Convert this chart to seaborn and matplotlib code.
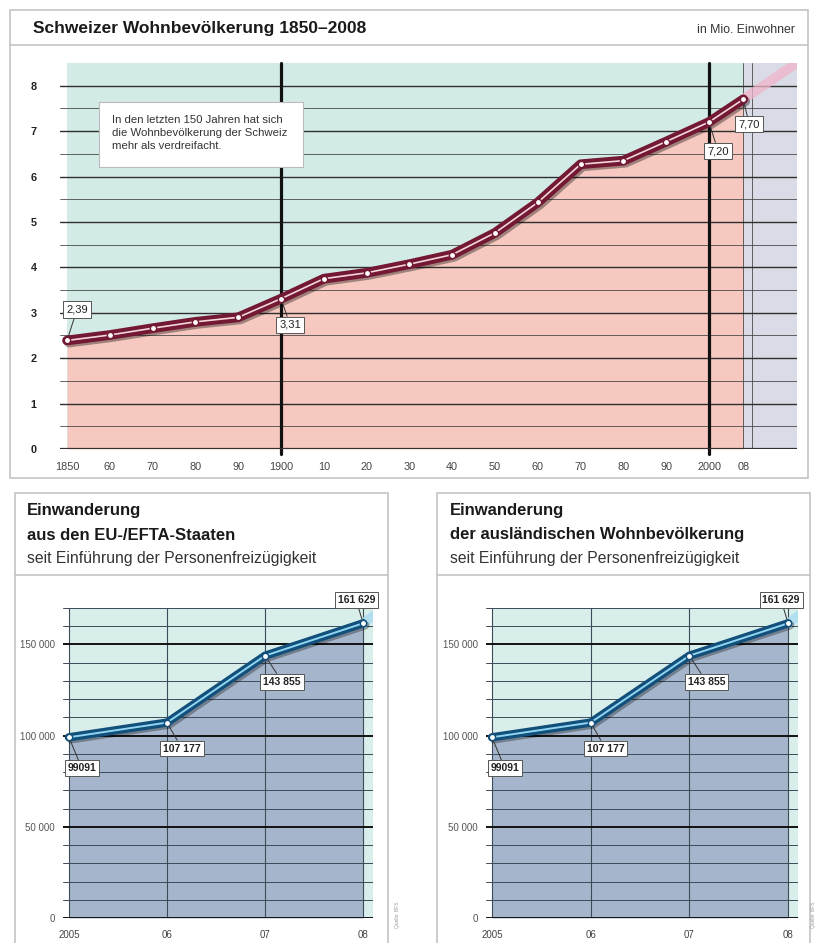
import matplotlib
matplotlib.use("Agg")
import matplotlib.pyplot as plt
import matplotlib.patheffects as pe
from matplotlib.patches import Rectangle
import seaborn as sns

# population, Mio. inhabitants
years = [1850, 1860, 1870, 1880, 1890, 1900, 1910, 1920, 1930, 1940,
         1950, 1960, 1970, 1980, 1990, 2000, 2008]
pop = [2.39, 2.51, 2.66, 2.80, 2.90, 3.31, 3.75, 3.88, 4.07, 4.28,
       4.76, 5.43, 6.27, 6.35, 6.77, 7.20, 7.70]
pop_labels = {1850: "2,39", 1900: "3,31", 2000: "7,20", 2008: "7,70"}
pop_trend_years = [2008, 2020.5]
pop_trend = [7.70, 8.5]
year_ticks = list(range(1850, 2001, 10)) + [2008]
year_ticklabels = ["1850", "60", "70", "80", "90", "1900", "10", "20", "30",
                   "40", "50", "60", "70", "80", "90", "2000", "08"]

# immigration since free movement of persons
imm_years = [2005, 2006, 2007, 2008]
eu_vals = [99091, 107177, 143855, 161629]
foreign_vals = [99091, 107177, 143855, 161629]
imm_labels = ["99091", "107 177", "143 855", "161 629"]
imm_trend_years = [2008, 2008.15]
imm_trend = [161629, 167500]
imm_ticklabels = ["2005", "06", "07", "08"]

W, H = 818, 943
FONTS = ["Liberation Sans", "DejaVu Sans"]

sns.set_style("white")
plt.rcParams["font.family"] = FONTS

fig = plt.figure(figsize=(W / 100, H / 100), dpi=100)


def rect(x0, y0, x1, y1):
    return [x0 / W, 1 - y1 / H, (x1 - x0) / W, (y1 - y0) / H]


# frames and headings, drawn in pixel coordinates
frame = fig.add_axes([0, 0, 1, 1])
frame.set_xlim(0, W)
frame.set_ylim(H, 0)
frame.axis("off")
for x0, y0, x1, y1, hy in [(10, 10, 808, 478, 45), (15, 493, 388, 960, 575),
                           (437, 493, 810, 960, 575)]:
    frame.add_patch(Rectangle((x0, y0), x1 - x0, y1 - y0, fc="white",
                              ec="#c4c4c4", lw=1.2))
    frame.plot([x0, x1], [hy, hy], color="#c4c4c4", lw=1.2)

frame.text(33, 29, "Schweizer Wohnbevölkerung 1850–2008", fontsize=12.5,
           fontweight="bold", color="#1a1a1a", va="center")
frame.text(795, 30, "in Mio. Einwohner", fontsize=8.8, color="#333",
           va="center", ha="right")
for x, lines in [(27, ["Einwanderung", "aus den EU-/EFTA-Staaten"]),
                 (450, ["Einwanderung", "der ausländischen Wohnbevölkerung"])]:
    frame.text(x, 511, lines[0], fontsize=12, fontweight="bold",
               color="#1a1a1a", va="center")
    frame.text(x, 535, lines[1], fontsize=12, fontweight="bold",
               color="#1a1a1a", va="center")
    frame.text(x, 559, "seit Einführung der Personenfreizügigkeit",
               fontsize=11.3, color="#333", va="center")
for x in [398, 814]:
    frame.text(x, 915, "Quelle: BFS", fontsize=3.5, color="#999",
               rotation=90, va="center", ha="center")

box = dict(boxstyle="square,pad=0.28", fc="white", ec="#555", lw=0.7)

# ---- top chart ----
ax = fig.add_axes(rect(60, 63, 797, 449))
ax.set_xlim(1848.36, 2020.56)
ax.set_ylim(0, 8.5)
ax.axvspan(1850, 2008, color="#d3ebe7", lw=0, zorder=0.6)
ax.axvspan(2008, 2020.56, color="#d9dbe6", lw=0, zorder=0.6)
ax.fill_between(years, pop, 0, color="#f6c8bf", lw=0, zorder=0.8)
ax.set_yticks(range(0, 9))
ax.set_yticks([i + 0.5 for i in range(8)], minor=True)
ax.set_xticks(year_ticks, year_ticklabels)
ax.set_xticks(list(range(1850, 2011, 10)), minor=True)
ax.grid(True, which="major", axis="y", color="#2e2e2e", lw=1.0)
ax.grid(True, which="minor", axis="y", color="#4a4a4a", lw=0.6)
ax.grid(True, which="minor", axis="x", color="#4a4a4a", lw=0.6)
ax.set_axisbelow("line")
ax.axvline(2008, color="#4a4a4a", lw=0.6, zorder=1.5)
for yr in [1900, 2000]:
    ax.axvline(yr, ymin=-0.012, color="#111", lw=2.3, zorder=1.6, clip_on=False)
ax.axhline(0, color="#333", lw=1.6, zorder=1.6)
sns.despine(ax=ax, left=True, bottom=True)
ax.tick_params(axis="both", which="both", length=0)
ax.tick_params(axis="x", pad=9, labelsize=7.8, labelcolor="#444")
ax.tick_params(axis="y", pad=19, labelsize=7.8, labelcolor="#222")
for t in ax.get_yticklabels():
    t.set_fontweight("bold")
    t.set_horizontalalignment("center")

sns.lineplot(x=pop_trend_years, y=pop_trend, ax=ax, color="#f0b4c9", lw=7,
             alpha=0.75, zorder=2.5, solid_capstyle="round")
sns.lineplot(x=years, y=pop, ax=ax, color="#731934", lw=7, zorder=3,
             path_effects=[pe.SimpleLineShadow(offset=(1.5, -1.5), alpha=0.35),
                           pe.Normal()])
sns.lineplot(x=years, y=pop, ax=ax, color="#f3d6dc", lw=1.2, zorder=4,
             marker="o", markersize=4.5, markerfacecolor="white",
             markeredgecolor="#731934", markeredgewidth=1.0)
ax.set_xlabel("")
ax.set_ylabel("")

offsets = {1850: (10, 31), 1900: (9, -26), 2000: (9, -29), 2008: (6, -25)}
for yr, lab in pop_labels.items():
    v = pop[years.index(yr)]
    ax.annotate(lab, (yr, v), xytext=offsets[yr], textcoords="offset pixels",
                fontsize=8, color="#222", ha="center", va="center",
                bbox=box, zorder=6,
                arrowprops=dict(arrowstyle="-", color="#333", lw=0.7,
                                shrinkA=0, shrinkB=3))

# ---- bottom charts ----
def imm_chart(x0, x1, vals):
    a = fig.add_axes(rect(x0, 608, x1, 918))
    a.set_xlim(2004.94, 2008.1)
    a.set_ylim(0, 170000)
    a.axvspan(2005, 2008.1, color="#d8eeea", lw=0, zorder=0.6)
    a.fill_between(imm_years, vals, 0, color="#a5b5cb", lw=0, zorder=0.8)
    a.set_yticks([0, 50000, 100000, 150000],
                 ["0", "50 000", "100 000", "150 000"])
    a.set_yticks(list(range(10000, 170001, 10000)), minor=True)
    a.set_xticks(imm_years, imm_ticklabels)
    a.grid(True, which="minor", axis="y", color="#3d4a58", lw=0.7)
    a.grid(True, which="major", axis="y", color="#111", lw=1.4)
    a.grid(True, which="major", axis="x", color="#3d4a58", lw=0.8)
    a.set_axisbelow("line")
    sns.despine(ax=a, left=True, bottom=True)
    a.tick_params(axis="both", which="both", length=0)
    a.tick_params(axis="x", pad=9, labelsize=7, labelcolor="#444")
    a.tick_params(axis="y", pad=6, labelsize=7, labelcolor="#555")
    sns.lineplot(x=imm_trend_years, y=imm_trend, ax=a, color="#a9dcf2",
                 lw=7, alpha=0.8, zorder=2.5)
    sns.lineplot(x=imm_years, y=vals, ax=a, color="#124f7a", lw=6, zorder=3,
                 path_effects=[pe.SimpleLineShadow(offset=(1.5, -1.5), alpha=0.3),
                               pe.Normal()])
    sns.lineplot(x=imm_years, y=vals, ax=a, color="#8fd5f3", lw=1.4, zorder=4,
                 marker="o", markersize=4.5, markerfacecolor="white",
                 markeredgecolor="#124f7a", markeredgewidth=1.0)
    a.set_xlabel("")
    a.set_ylabel("")
    offs = [(13, -31), (15, -26), (17, -26), (-7, 23)]
    for yr, v, lab, off in zip(imm_years, vals, imm_labels, offs):
        a.annotate(lab, (yr, v), xytext=off, textcoords="offset pixels",
                   fontsize=7.5, fontweight="bold", color="#222",
                   ha="center", va="center", bbox=box, zorder=6,
                   annotation_clip=False,
                   arrowprops=dict(arrowstyle="-", color="#333", lw=0.7,
                                   shrinkA=0, shrinkB=3))
    return a


imm_chart(63, 373, eu_vals)
imm_chart(486, 798, foreign_vals)

# overlay: note box in top chart
over = fig.add_axes([0, 0, 1, 1])
over.set_xlim(0, W)
over.set_ylim(H, 0)
over.axis("off")
over.patch.set_alpha(0)
over.add_patch(Rectangle((99, 102), 204, 65, fc="white", ec="#bbb", lw=0.8))
over.text(112, 133, "In den letzten 150 Jahren hat sich\n"
          "die Wohnbevölkerung der Schweiz\nmehr als verdreifacht.",
          fontsize=8.2, color="#333", va="center", linespacing=1.4)

fig.savefig("out.png", dpi=100)
